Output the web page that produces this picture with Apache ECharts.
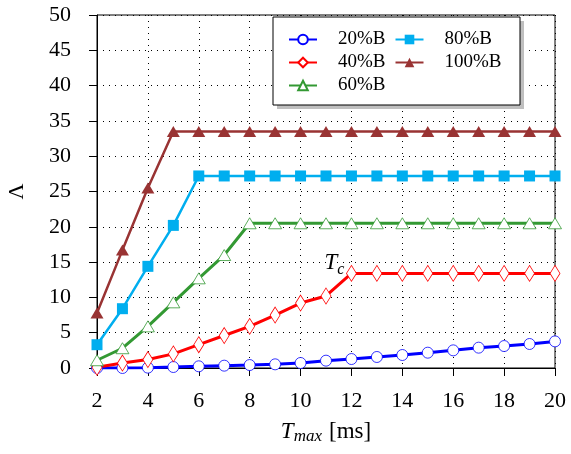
<!DOCTYPE html>
<html>
<head>
<meta charset="utf-8">
<script src="https://cdn.jsdelivr.net/npm/echarts@6/dist/echarts.min.js"></script>
<style>
  html, body { margin: 0; padding: 0; background: #fff; }
  #main { width: 571px; height: 454px; }
</style>
</head>
<body>
<div id="main"></div>
<script>
// x values (Tmax in ms)
var tmax = [2, 3, 4, 5, 6, 7, 8, 9, 10, 11, 12, 13, 14, 15, 16, 17, 18, 19, 20]

var b20 = [0, 0, 0.05, 0.14, 0.24, 0.33, 0.42, 0.52, 0.71, 1.04, 1.27, 1.56, 1.84, 2.17, 2.5, 2.88, 3.11, 3.4, 3.77]
var b40 = [0.1, 0.7, 1.2, 2.0, 3.3, 4.6, 5.9, 7.5, 9.2, 10.2, 13.4, 13.4, 13.4, 13.4, 13.4, 13.4, 13.4, 13.4, 13.4]
var b60 = [1.1, 2.8, 5.9, 9.3, 12.7, 16.0, 20.5, 20.5, 20.5, 20.5, 20.5, 20.5, 20.5, 20.5, 20.5, 20.5, 20.5, 20.5, 20.5]
var b80 = [3.3, 8.4, 14.4, 20.2, 27.2, 27.2, 27.2, 27.2, 27.2, 27.2, 27.2, 27.2, 27.2, 27.2, 27.2, 27.2, 27.2, 27.2, 27.2]
var b100 = [7.8, 16.7, 25.5, 33.5, 33.5, 33.5, 33.5, 33.5, 33.5, 33.5, 33.5, 33.5, 33.5, 33.5, 33.5, 33.5, 33.5, 33.5, 33.5]

var names = ['20%B', '40%B', '60%B', '80%B', '100%B']
var tcIndex = 10 // T_c annotation sits on the 40%B knee

var serif = "'Liberation Serif', 'DejaVu Serif', serif"

function pairs(ys) {
  return ys.map(function (y, i) { return [tmax[i], y] })
}

var chart = echarts.init(document.getElementById('main'))

function lineSeries(name, ys, color, symbol, size, hollow, width) {
  return {
    name: name,
    type: 'line',
    data: pairs(ys),
    symbol: symbol,
    symbolSize: size,
    showAllSymbol: true,
    lineStyle: { color: color, width: width },
    itemStyle: {
      color: hollow ? '#fff' : color,
      borderColor: color,
      borderWidth: hollow ? 0.8 : 0,
    },
    emphasis: { disabled: true },
    animation: false,
  }
}

var series = [
  lineSeries(names[0], b20, '#0000ff', 'circle', 11, true, 3),
  lineSeries(names[1], b40, '#ff0000', 'diamond', [10, 16], true, 3),
  lineSeries(names[2], b60, '#339933', 'triangle', [13, 11], true, 3),
  lineSeries(names[3], b80, '#00aeef', 'rect', 11, false, 2.5),
  lineSeries(names[4], b100, '#993333', 'triangle', [13, 11], false, 2.5),
]

series[1].markPoint = {
  symbol: 'circle',
  symbolSize: 1,
  itemStyle: { color: 'rgba(0,0,0,0)' },
  data: [{ coord: [tmax[tcIndex], b40[tcIndex]] }],
  label: {
    show: true,
    position: 'inside',
    offset: [-17, -10],
    formatter: '{t|T}{s|c}',
    rich: {
      t: { fontFamily: serif, fontStyle: 'italic', fontSize: 23, color: '#000' },
      s: { fontFamily: serif, fontStyle: 'italic', fontSize: 16, color: '#000', padding: [12, 0, 0, 0] },
    },
  },
}

function legendRow(top, items) {
  return {
    left: 283,
    top: top,
    orient: 'horizontal',
    data: items,
    itemWidth: 28,
    itemHeight: 12,
    itemGap: 9,
    selectedMode: false,
    z: 10,
    // spacer before the name, pgfplots leaves a wide gap after the sample line
    formatter: function (name) { return '{p| }' + name },
    textStyle: {
      fontFamily: serif, fontSize: 19, color: '#000',
      rich: { p: { width: 16, fontSize: 19 } },
    },
  }
}

var option = {
  backgroundColor: '#fff',
  animation: false,
  grid: {
    left: 97, right: 16, top: 15, bottom: 86,
    outerBoundsMode: 'none',
    containLabel: false,
    show: true, borderColor: '#000', borderWidth: 1,
  },
  xAxis: {
    type: 'value',
    min: 2,
    max: 20,
    interval: 2,
    name: '{t|T}{s|max}{n|[ms]}',
    nameLocation: 'middle',
    nameGap: 50,
    nameTextStyle: {
      rich: {
        t: { fontFamily: serif, fontStyle: 'italic', fontSize: 23, color: '#000' },
        s: { fontFamily: serif, fontStyle: 'italic', fontSize: 17, color: '#000', padding: [10, 0, 0, 0] },
        n: { fontFamily: serif, fontSize: 23, color: '#000', padding: [0, 0, 0, 7] },
      },
    },
    axisLine: { lineStyle: { color: '#000', width: 1 } },
    axisTick: { show: true, length: 8, lineStyle: { color: '#000' } },
    axisLabel: { fontFamily: serif, fontSize: 22, color: '#000', margin: 22 },
    splitLine: { show: true, lineStyle: { color: '#000', type: [1, 5], width: 1 } },
  },
  yAxis: {
    type: 'value',
    min: 0,
    max: 50,
    interval: 5,
    name: 'Λ',
    nameLocation: 'middle',
    nameRotate: 90,
    nameGap: 69,
    nameTextStyle: { fontFamily: serif, fontSize: 22, color: '#000' },
    axisLine: { show: true, lineStyle: { color: '#000', width: 1 } },
    axisTick: { show: true, length: 8, lineStyle: { color: '#000' } },
    axisLabel: { fontFamily: serif, fontSize: 22, color: '#000', margin: 26 },
    splitLine: { show: true, lineStyle: { color: '#000', type: [1, 5], width: 1 } },
  },
  legend: [
    legendRow(25, ['20%B', '80%B']),
    legendRow(48, ['40%B', '100%B']),
    legendRow(71, ['60%B']),
  ],
  graphic: [
    { type: 'rect', shape: { x: 277, y: 21, width: 247, height: 88 }, style: { fill: '#bfbfbf' }, z: 1 },
    { type: 'rect', shape: { x: 273, y: 17, width: 247, height: 88 }, style: { fill: '#fff', stroke: '#000', lineWidth: 1 }, z: 2 },
  ],
  series: series,
}

chart.setOption(option)
</script>
</body>
</html>
